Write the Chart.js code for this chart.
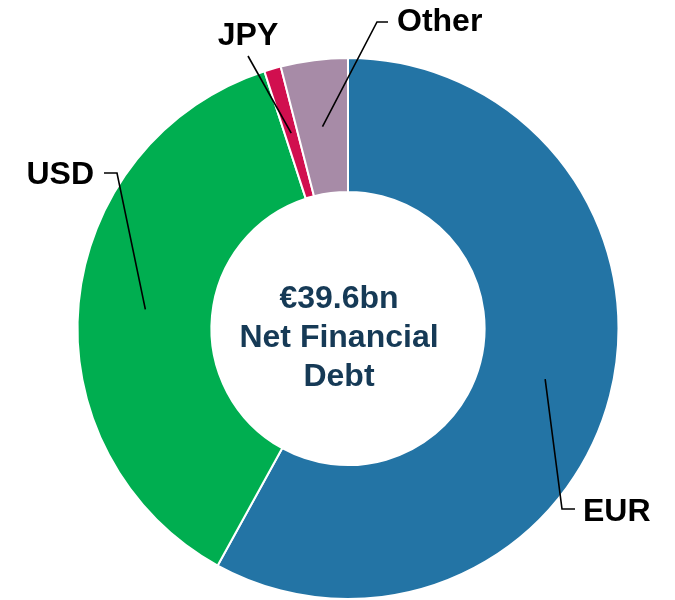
<!DOCTYPE html>
<html>
<head>
<meta charset="utf-8">
<script src="https://cdn.jsdelivr.net/npm/chart.js@4"></script>
<style>
  html, body { margin: 0; padding: 0; background: #fff; }
  #wrap { width: 675px; height: 600px; }
</style>
</head>
<body>
<div id="wrap"><canvas id="debtChart" width="675" height="600"></canvas></div>
<script>
// Net financial debt split by currency (% of total)
const currencies = ['EUR', 'USD', 'JPY', 'Other'];
const shares = [58, 37, 1, 4];
const colours = ['#2374a5', '#00ae50', '#d10f4f', '#a78ba7'];
const centreLines = ['€39.6bn', 'Net Financial', 'Debt'];

// where each label sits and how its leader bends: [label x, label y, text align, elbow x, elbow y, tail x]
const labelPlaces = {
  EUR:   [583, 512, 'left', 562, 509, 575],
  USD:   [94, 175, 'right', 117, 173, 104],
  JPY:   [248, 36, 'center', null, null, null],
  Other: [397, 22, 'left', 377, 22, 388]
};

const labelFont = 'bold 32px "Liberation Sans", Arial, sans-serif';

// Centre text inside the hole
const centreText = {
  id: 'centreText',
  afterDraw(chart) {
    const arc = chart.getDatasetMeta(0).data[0];
    const ctx = chart.ctx;
    ctx.save();
    ctx.fillStyle = '#163a56';
    ctx.font = labelFont;
    ctx.textAlign = 'center';
    ctx.textBaseline = 'middle';
    centreLines.forEach((line, i) => {
      ctx.fillText(line, arc.x - 9, arc.y - 29 + i * 39);
    });
    ctx.restore();
  }
};

// Currency labels with leader lines to the middle of each slice
const leaderLabels = {
  id: 'leaderLabels',
  afterDraw(chart) {
    const ctx = chart.ctx;
    const arcs = chart.getDatasetMeta(0).data;
    ctx.save();
    ctx.strokeStyle = '#000';
    ctx.lineWidth = 1.6;
    ctx.fillStyle = '#000';
    ctx.font = labelFont;
    ctx.textBaseline = 'middle';
    currencies.forEach((name, i) => {
      const p = arcs[i].getCenterPoint();
      const [lx, ly, align, ex, ey, tx] = labelPlaces[name];
      ctx.beginPath();
      ctx.moveTo(p.x, p.y);
      if (ex === null) {
        ctx.lineTo(lx, ly + 20);
      } else {
        ctx.lineTo(ex, ey);
        ctx.lineTo(tx, ey);
      }
      ctx.stroke();
      ctx.textAlign = align;
      ctx.fillText(name, lx, ly);
    });
    ctx.restore();
  }
};

new Chart(document.getElementById('debtChart'), {
  type: 'doughnut',
  data: {
    labels: currencies,
    datasets: [{
      data: shares,
      backgroundColor: colours,
      borderColor: '#ffffff',
      borderWidth: 2
    }]
  },
  options: {
    responsive: false,
    animation: false,
    cutout: '50.5%',
    layout: { padding: { top: 57, bottom: -3, left: 75, right: 54 } },
    plugins: {
      legend: { display: false },
      tooltip: { enabled: false }
    }
  },
  plugins: [centreText, leaderLabels]
});
</script>
</body>
</html>
